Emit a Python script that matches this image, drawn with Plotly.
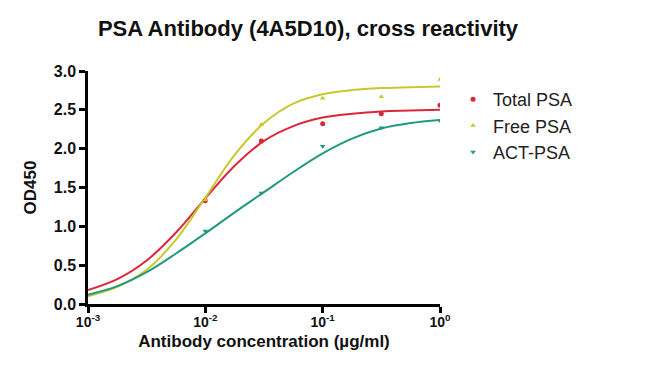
import plotly.graph_objects as go

# measured points
conc_pts = [0.01, 0.03, 0.1, 0.316, 1.0]
total_pts = [1.33, 2.10, 2.32, 2.45, 2.56]
free_pts = [1.34, 2.31, 2.65, 2.67, 2.89]
act_pts = [0.94, 1.43, 2.03, 2.27, 2.36]

# fitted curves (at quarter-decade steps)
conc_fit = [0.001, 0.001778, 0.003162, 0.005623, 0.01, 0.01778, 0.03162,
            0.05623, 0.1, 0.1778, 0.3162, 0.5623, 1.0]
total_fit = [0.18, 0.32, 0.56, 0.92, 1.36, 1.78, 2.10, 2.29, 2.40, 2.45, 2.48, 2.49, 2.50]
free_fit = [0.10, 0.22, 0.44, 0.83, 1.37, 1.92, 2.33, 2.58, 2.70, 2.755, 2.78, 2.79, 2.80]
act_fit = [0.12, 0.23, 0.41, 0.65, 0.91, 1.18, 1.44, 1.70, 1.94, 2.13, 2.26, 2.33, 2.37]

names = ["Total PSA", "Free PSA", "ACT-PSA"]
colors = ["#da283a", "#c8c92e", "#1f9a7f"]
symbols = ["circle", "triangle-up", "triangle-down"]

x_tickvals = [0.001, 0.01, 0.1, 1]
x_ticktext = ["10<sup>-3</sup>", "10<sup>-2</sup>", "10<sup>-1</sup>", "10<sup>0</sup>"]
y_tickvals = [0, 0.5, 1.0, 1.5, 2.0, 2.5, 3.0]
y_ticktext = ["0.0", "0.5", "1.0", "1.5", "2.0", "2.5", "3.0"]

FONT = "Liberation Sans, Arial, sans-serif"

fig = go.Figure()
for name, col, fit in zip(names, colors, [total_fit, free_fit, act_fit]):
    fig.add_trace(go.Scatter(x=conc_fit, y=fit, mode="lines",
                             line=dict(color=col, width=2, shape="spline", smoothing=1.0),
                             showlegend=False, hoverinfo="skip"))
for i, (name, col, sym, pts) in enumerate(zip(names, colors, symbols, [total_pts, free_pts, act_pts])):
    fig.add_trace(go.Scatter(x=conc_pts, y=pts, mode="markers", name=name,
                             legendgroup=f"g{i}",
                             marker=dict(color=col, symbol=sym, size=5)))

fig.update_layout(
    width=650, height=366,
    margin=dict(l=80, r=218, t=63, b=70),
    plot_bgcolor="white", paper_bgcolor="white",
    font=dict(family=FONT, color="#111"),
    title=dict(text="<b>PSA Antibody (4A5D10), cross reactivity</b>",
               x=300/650, xanchor="center", y=1 - 20/366, yanchor="middle",
               font=dict(size=22, color="#111")),
    legend=dict(x=1.037, y=0.957, xanchor="left", yanchor="top",
                font=dict(size=18, color="#222"), tracegroupgap=0, itemwidth=30,
                bgcolor="rgba(0,0,0,0)"),
    showlegend=True,
)
fig.update_xaxes(type="log", range=[-3, 0], tickvals=x_tickvals, ticktext=x_ticktext,
                 showgrid=False, zeroline=False, showline=True, linecolor="black", linewidth=2.5,
                 ticks="outside", ticklen=6, tickwidth=2.5, tickcolor="black",
                 ticklabelstandoff=-3,
                 tickfont=dict(size=14, family=FONT, weight="bold"),
                 title=dict(text="<b>Antibody concentration (µg/ml)</b>", font=dict(size=17), standoff=7))
fig.update_yaxes(range=[0, 3], tickvals=y_tickvals, ticktext=y_ticktext,
                 showgrid=False, zeroline=False, showline=True, linecolor="black", linewidth=2.5,
                 ticks="outside", ticklen=6, tickwidth=2.5, tickcolor="black",
                 tickfont=dict(size=16, family=FONT, weight="bold"),
                 title=dict(text="<b>OD450</b>", font=dict(size=17), standoff=13))

fig.write_html("out.html")
